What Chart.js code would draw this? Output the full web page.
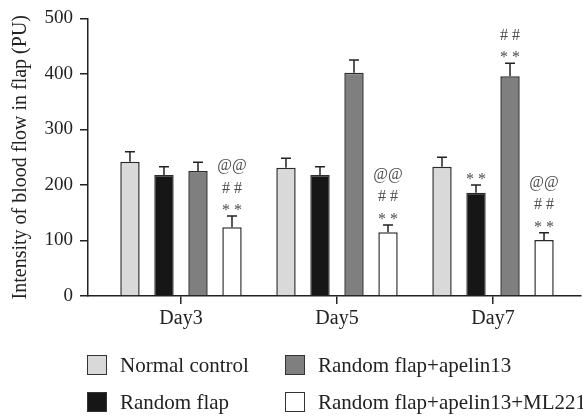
<!DOCTYPE html>
<html>
<head>
<meta charset="utf-8">
<script src="https://cdn.jsdelivr.net/npm/chart.js@4"></script>
<style>
  html, body { margin: 0; padding: 0; background: #fff; }
  #wrap { position: relative; width: 583px; height: 417px; }
  #legend {
    position: absolute; left: 87px; top: 353px;
    display: grid; grid-template-rows: 24px 24px; grid-auto-flow: column;
    grid-template-columns: 198px auto; row-gap: 13px;
    font-family: "Liberation Serif", serif; font-size: 21px; color: #222;
  }
  .item { display: flex; align-items: center; white-space: nowrap; }
  .box { width: 20px; height: 20px; border: 1px solid #333; box-sizing: border-box; margin-right: 13px; }
</style>
</head>
<body>
<div id="wrap">
  <canvas id="chart" width="583" height="417"></canvas>
  <div id="legend"></div>
</div>
<script>
// ---- data -------------------------------------------------------------------
const categories = ["Day3", "Day5", "Day7"];
const seriesNames = ["Normal control", "Random flap", "Random flap+apelin13", "Random flap+apelin13+ML221"];
const normalControl = [242, 231, 233];
const randomFlap = [218, 218, 186];
const apelin13 = [225, 402, 396];
const apelinML221 = [124, 115, 101];
const errNormal = [18, 17, 17];
const errRandom = [15, 15, 14];
const errApelin = [16, 23, 23];
const errML221 = [20, 13, 13];
const sigNormal = [[], [], []];
const sigRandom = [[], [], ["**"]];
const sigApelin = [[], [], ["**", "##"]];
const sigML221 = [["**", "##", "@@"], ["**", "##", "@@"], ["**", "##", "@@"]];
const yTicks = [0, 100, 200, 300, 400, 500];

const FILLS = ["#d9d9d9", "#161616", "#7f7f7f", "#ffffff"];
const INK = "#222";
const FONT = "'Liberation Serif', serif";

const values = [normalControl, randomFlap, apelin13, apelinML221];
const errors = [errNormal, errRandom, errApelin, errML221];
const sigs = [sigNormal, sigRandom, sigApelin, sigML221];

// ---- error bars + significance marks ---------------------------------------
const errorBars = {
  id: "errorBars",
  afterDatasetsDraw(chart) {
    const ctx = chart.ctx, y = chart.scales.y;
    ctx.save();
    chart.data.datasets.forEach((ds, i) => {
      const meta = chart.getDatasetMeta(i);
      meta.data.forEach((bar, j) => {
        const top = y.getPixelForValue(values[i][j] + errors[i][j]);
        ctx.strokeStyle = INK;
        ctx.lineWidth = 1.5;
        ctx.beginPath();
        ctx.moveTo(bar.x, bar.y);
        ctx.lineTo(bar.x, top);
        ctx.moveTo(bar.x - 5, top);
        ctx.lineTo(bar.x + 5, top);
        ctx.stroke();
        ctx.fillStyle = "#4d4d4d";
        ctx.font = "16px " + FONT;
        ctx.textAlign = "center";
        ctx.textBaseline = "alphabetic";
        sigs[i][j].forEach((s, k) => {
          const sp = s[0] === "@" ? 0 : 4;
          ctx.letterSpacing = sp + "px";
          ctx.fillText(s, bar.x + sp / 2, top - 1 - k * 22.5);
        });
        ctx.letterSpacing = "0px";
      });
    });
    ctx.restore();
  },
};

// ---- chart ------------------------------------------------------------------
const chart = new Chart(document.getElementById("chart"), {
  type: "bar",
  data: {
    datasets: values.map((vals, i) => ({
      label: seriesNames[i],
      data: vals.map((v, j) => ({ x: j, y: v })),
      backgroundColor: FILLS[i],
      borderColor: "#2b2b2b",
      borderWidth: 1.5,
      categoryPercentage: 0.872,
      barPercentage: 0.57,
    })),
  },
  options: {
    responsive: false, animation: false,
    layout: { padding: { left: 0, right: 2, top: 17, bottom: 81 } },
    plugins: { legend: { display: false }, tooltip: { enabled: false } },
    scales: {
      x: {
        type: "linear", min: -0.596, max: 2.564, offset: false,
        afterBuildTicks: (s) => { s.ticks = categories.map((c, i) => ({ value: i })); },
        afterFit: (s) => { s.height = 40; },
        border: { color: INK, width: 1.5 },
        grid: { offset: false, drawOnChartArea: false, tickLength: 8, color: INK, lineWidth: 1.5 },
        ticks: { color: INK, font: { family: FONT, size: 20 }, padding: 3, callback: (v) => categories[v] ?? "" },
      },
      y: {
        min: 0, max: 500,
        afterBuildTicks: (s) => { s.ticks = yTicks.map(v => ({ value: v })); },
        afterFit: (s) => { s.width = 88; },
        border: { color: INK, width: 1.5 },
        grid: { drawOnChartArea: false, tickLength: 8, color: INK, lineWidth: 1.5 },
        ticks: { color: INK, font: { family: FONT, size: 19 }, padding: 7 },
        title: {
          display: true, text: "Intensity of blood flow in flap (PU)", color: INK,
          font: { family: FONT, size: 20 }, padding: { top: 9, bottom: 0 },
        },
      },
    },
  },
  plugins: [errorBars],
});

// ---- legend (2 x 2, column-first) ------------------------------------------
document.getElementById("legend").innerHTML = seriesNames.map((n, i) => `
  <div class="item"><span class="box" style="background:${FILLS[i]}"></span>${n}</div>`).join("");
</script>
</body>
</html>
